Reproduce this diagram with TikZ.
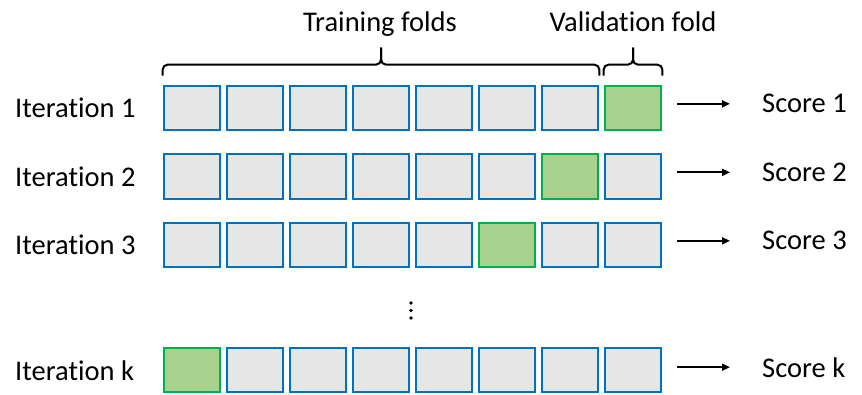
\documentclass[tikz,border=0pt]{standalone}
\usepackage{fontspec}
\setmainfont{Carlito}[Ligatures=NoCommon]
\definecolor{foldblue}{RGB}{0,112,192}
\definecolor{foldgray}{RGB}{231,230,230}
\definecolor{valgreen}{RGB}{0,176,80}
\definecolor{valfill}{RGB}{169,209,142}
\usetikzlibrary{arrows.meta,positioning,calc}

\begin{document}
\begin{tikzpicture}[x=1pt,y=-1pt,
  fold/.style={draw=foldblue,fill=foldgray,line width=2.2pt,minimum width=56.5pt,minimum height=44.5pt,inner sep=0pt},
  valfold/.style={fold,draw=valgreen,fill=valfill},
  lbl/.style={font=\fontsize{28.5}{32}\selectfont,inner sep=0pt},
  brace/.style={line width=2pt,rounded corners=5pt},
  scorearrow/.style={-{Triangle[length=8pt,width=7pt]},line width=1.8pt}]
  \useasboundingbox (0,0) rectangle (862,395);
  % Rows of folds
  \foreach \r/\y/\v/\t/\b in {1/108/7/1/5, 2/176.5/6/2/5, 3/245/5/3/5, 4/370/0/k/7} {
    \foreach \i in {0,...,7} {
      \ifnum\i=\v \def\st{valfold}\else \def\st{fold}\fi
      \node[\st] (c\r-\i) at ({192+63*\i},\y) {};
    }
    \node[lbl,anchor=base west] (it\r) at (15,\y+10) {Iteration \t};
    \node[lbl,anchor=base west] (sc\r) at (762,\y+\b) {Score \t};
    \draw[scorearrow] ([xshift=15]sc\r.west -| c\r-7.east) -- ([xshift=-32]sc\r.west);
  }
  % Dots between row 3 and row k
  \foreach \d in {303,310.5,318}
    \fill (411,\d) circle (1.8pt);
  % Braces
  \node[lbl,anchor=base] (train) at (380,32) {Training folds};
  \node[lbl,anchor=base] (valid) at (633,32) {Validation fold};
  \coordinate (tl) at ([yshift=9]c1-0.north west);
  \coordinate (tr) at ([yshift=9]c1-6.north east);
  \coordinate (tm) at ($(tl)!0.5!(tr)+(0,-28)$);
  \draw[brace] (tl) -- ++(0,-11) -| (tm);
  \draw[brace] (tr) -- ++(0,-11) -| (tm);
  \coordinate (vl) at ([yshift=9]c1-7.north west);
  \coordinate (vr) at ([yshift=9]c1-7.north east);
  \coordinate (vm) at ($(vl)!0.5!(vr)+(0,-28)$);
  \draw[brace] (vl) -- ++(0,-11) -| (vm);
  \draw[brace] (vr) -- ++(0,-11) -| (vm);
\end{tikzpicture}
\end{document}
